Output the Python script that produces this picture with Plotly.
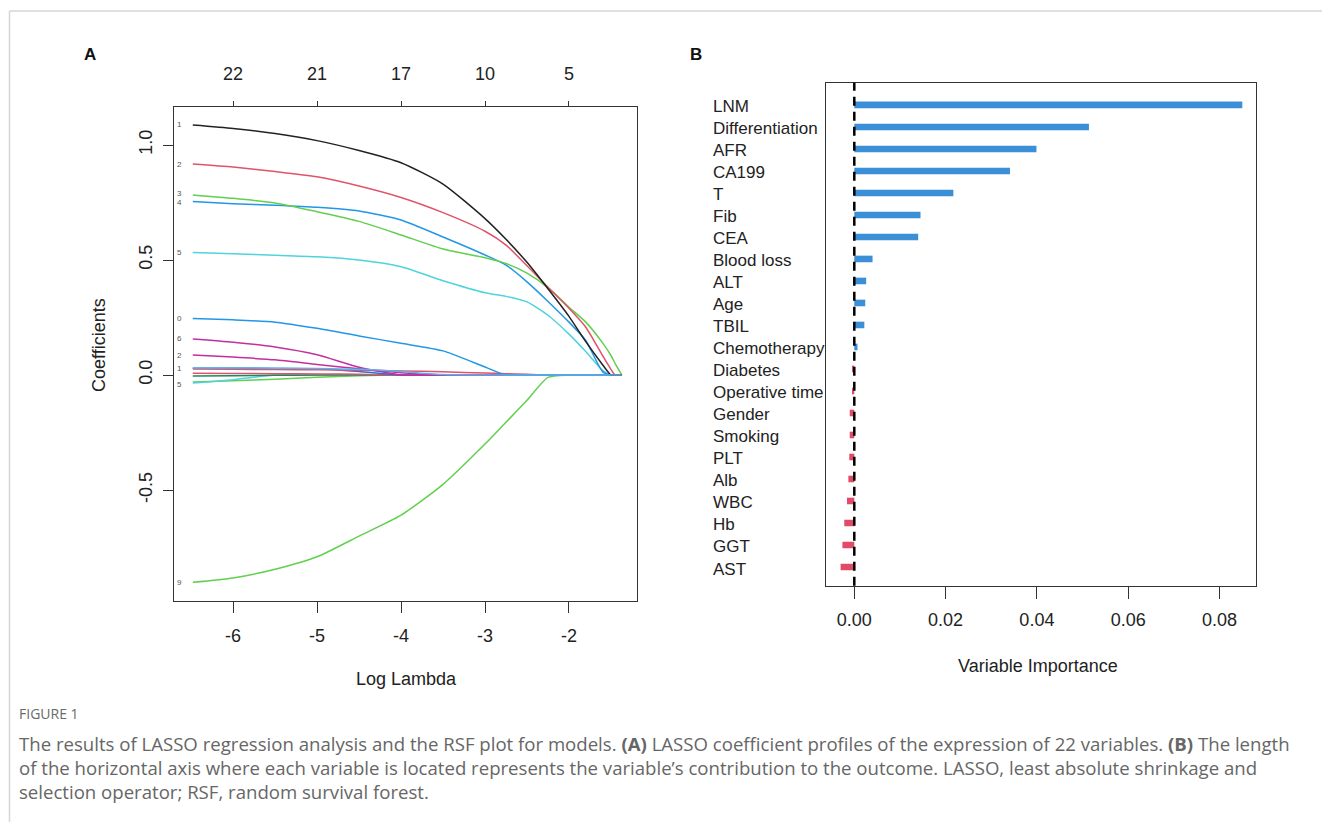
import plotly.graph_objects as go

W, H = 1322, 822

# ---------------- Panel A data (LASSO coefficient paths) ----------------
loglam = [-6.48, -6.0, -5.5, -5.0, -4.5, -4.0, -3.5, -3.0, -2.75, -2.5, -2.25, -2.0, -1.8, -1.6, -1.5, -1.45, -1.37]

coef_v1 = [1.087, 1.072, 1.050, 1.019, 0.976, 0.923, 0.830, 0.680, 0.590, 0.490, 0.375, 0.255, 0.145, 0.045, 0.0, 0.0, 0.0]
coef_v2 = [0.917, 0.904, 0.885, 0.862, 0.822, 0.772, 0.706, 0.625, 0.565, 0.475, 0.382, 0.290, 0.208, 0.085, 0.025, 0.0, 0.0]
coef_v3 = [0.783, 0.768, 0.748, 0.710, 0.668, 0.609, 0.548, 0.510, 0.485, 0.443, 0.380, 0.295, 0.230, 0.140, 0.085, 0.050, 0.0]
coef_v4 = [0.754, 0.745, 0.738, 0.729, 0.713, 0.674, 0.600, 0.522, 0.478, 0.405, 0.320, 0.230, 0.150, 0.015, 0.0, 0.0, 0.0]
coef_v5 = [0.533, 0.527, 0.521, 0.514, 0.500, 0.471, 0.410, 0.358, 0.342, 0.318, 0.260, 0.178, 0.102, 0.020, 0.0, 0.0, 0.0]
coef_v10 = [0.246, 0.240, 0.230, 0.203, 0.170, 0.138, 0.105, 0.035, 0.0, 0.0, 0.0, 0.0, 0.0, 0.0, 0.0, 0.0, 0.0]
coef_v16 = [0.157, 0.143, 0.122, 0.088, 0.034, 0.0, 0.0, 0.0, 0.0, 0.0, 0.0, 0.0, 0.0, 0.0, 0.0, 0.0, 0.0]
coef_v12 = [0.087, 0.078, 0.066, 0.046, 0.027, 0.010, 0.0, 0.0, 0.0, 0.0, 0.0, 0.0, 0.0, 0.0, 0.0, 0.0, 0.0]
coef_v19 = [-0.901, -0.882, -0.844, -0.790, -0.700, -0.609, -0.475, -0.300, -0.205, -0.110, -0.010, 0.0, 0.0, 0.0, 0.0, 0.0, 0.0]
coef_n1 = [0.030, 0.030, 0.029, 0.027, 0.015, 0.0, 0.0, 0.0, 0.0, 0.0, 0.0, 0.0, 0.0, 0.0, 0.0, 0.0, 0.0]
coef_n2 = [0.026, 0.025, 0.024, 0.023, 0.021, 0.018, 0.014, 0.009, 0.006, 0.003, 0.0, 0.0, 0.0, 0.0, 0.0, 0.0, 0.0]
coef_n3 = [0.008, 0.007, 0.006, 0.005, 0.003, 0.0, 0.0, 0.0, 0.0, 0.0, 0.0, 0.0, 0.0, 0.0, 0.0, 0.0, 0.0]
coef_n4 = [-0.004, -0.003, -0.001, 0.0, 0.0, 0.0, 0.0, 0.0, 0.0, 0.0, 0.0, 0.0, 0.0, 0.0, 0.0, 0.0, 0.0]
coef_n5 = [-0.035, -0.020, 0.0, 0.0, 0.0, 0.0, 0.0, 0.0, 0.0, 0.0, 0.0, 0.0, 0.0, 0.0, 0.0, 0.0, 0.0]
coef_n6 = [-0.030, -0.025, -0.018, -0.010, -0.003, 0.0, 0.0, 0.0, 0.0, 0.0, 0.0, 0.0, 0.0, 0.0, 0.0, 0.0, 0.0]
coef_n7 = [0.031, 0.031, 0.030, 0.029, 0.025, 0.015, 0.002, 0.0, 0.0, 0.0, 0.0, 0.0, 0.0, 0.0, 0.0, 0.0, 0.0]

# (values, colour, left label, label vertical nudge in px)
path_series = [
    (coef_n6, "#61D04F", "", 0), (coef_n5, "#4FD3DD", "5", -1), (coef_n4, "#1E8A5C", "", 0),
    (coef_n3, "#DF536B", "", 0), (coef_n1, "#2F6FD0", "1", 0), (coef_n2, "#DF536B", "", 0),
    (coef_v19, "#61D04F", "9", 0), (coef_v12, "#C2309F", "2", 0), (coef_v16, "#C2309F", "6", 0),
    (coef_v10, "#2297E6", "0", 0), (coef_v5, "#4FD3DD", "5", 0), (coef_v4, "#2297E6", "4", -1),
    (coef_v3, "#61D04F", "3", 1), (coef_v2, "#DF536B", "2", 0), (coef_v1, "#222222", "1", 0),
    (coef_n7, "#5AB4EA", "", 0),
]

bottom_tick_vals = [-6, -5, -4, -3, -2]
bottom_tick_text = ["-6", "-5", "-4", "-3", "-2"]
top_tick_text = ["22", "21", "17", "10", "5"]
coef_tick_vals = [-0.5, 0, 0.5, 1.0]
coef_tick_text = ["-0.5", "0.0", "0.5", "1.0"]

# ---------------- Panel B data (RSF variable importance) ----------------
variables = ["LNM", "Differentiation", "AFR", "CA199", "T", "Fib", "CEA", "Blood loss", "ALT", "Age",
             "TBIL", "Chemotherapy", "Diabetes", "Operative time", "Gender", "Smoking", "PLT", "Alb",
             "WBC", "Hb", "GGT", "AST"]
importance = [0.0850, 0.0514, 0.0399, 0.0341, 0.0217, 0.0145, 0.0140, 0.0040, 0.0026, 0.0024,
              0.0022, 0.0007, -0.0005, -0.0005, -0.0010, -0.0010, -0.0011, -0.0013,
              -0.0016, -0.0022, -0.0026, -0.0030]
vimp_tick_vals = [0, 0.02, 0.04, 0.06, 0.08]
vimp_tick_text = ["0.00", "0.02", "0.04", "0.06", "0.08"]

fig = go.Figure()

# Panel A lines
for vals, col, lab, nudge in path_series:
    fig.add_trace(go.Scatter(x=loglam, y=vals, mode="lines",
                             line=dict(color=col, width=1.5, shape="spline", smoothing=0.6),
                             xaxis="x", yaxis="y", showlegend=False, hoverinfo="skip"))
    if lab:
        fig.add_annotation(x=-6.64, y=vals[0], xref="x", yref="y", text=lab, showarrow=False,
                           xanchor="center", yanchor="middle", yshift=nudge,
                           font=dict(family="Liberation Sans", size=8, color="#555555"))

# invisible trace to attach the top axis
fig.add_trace(go.Scatter(x=[loglam[0]], y=[0], mode="markers", marker=dict(opacity=0),
                         xaxis="x3", yaxis="y", showlegend=False, hoverinfo="skip"))

# Panel B bars
bar_colors = ["#3A8FD6" if v > 0 else "#E04B67" for v in importance]
fig.add_trace(go.Bar(x=importance, y=variables, orientation="h",
                     marker=dict(color=bar_colors, line=dict(width=0)),
                     width=0.3, xaxis="x2", yaxis="y2", showlegend=False, hoverinfo="skip"))

axis_font = dict(family="Liberation Sans", size=18, color="#222222")

fig.update_layout(
    width=W, height=H, margin=dict(l=0, r=0, t=0, b=0),
    paper_bgcolor="white", plot_bgcolor="white",
    xaxis=dict(domain=[174.3 / W, 637 / W], range=[-6.70, -1.19], showgrid=False, zeroline=False,
               showline=True, mirror=True, linecolor="#333333", linewidth=1,
               ticks="outside", ticklen=11, tickcolor="#333333", tickvals=bottom_tick_vals,
               ticktext=bottom_tick_text, tickfont=axis_font, ticklabelstandoff=8),
    xaxis3=dict(domain=[174.3 / W, 637 / W], range=[-6.70, -1.19], overlaying="x", side="top", anchor="y",
                showgrid=False, zeroline=False, showline=False, ticks="outside", ticklen=5,
                tickcolor="#333333", tickvals=bottom_tick_vals, ticktext=top_tick_text, tickfont=axis_font,
                ticklabelstandoff=14),
    yaxis=dict(domain=[1 - 600.5 / H, 1 - 106.7 / H], range=[-0.980, 1.1665], showgrid=False, zeroline=False,
               showline=True, mirror=True, linecolor="#333333", linewidth=1,
               ticks="outside", ticklen=10, tickcolor="#333333", tickvals=coef_tick_vals,
               ticktext=coef_tick_text, tickangle=-90, tickfont=axis_font, ticklabelstandoff=4),
    xaxis2=dict(domain=[826 / W, 1256 / W], range=[-0.0062, 0.0880], anchor="y2", showgrid=False,
                zeroline=False, showline=True, mirror=True, linecolor="#333333", linewidth=1,
                ticks="outside", ticklen=12, tickcolor="#333333",
                tickvals=vimp_tick_vals, ticktext=vimp_tick_text, tickfont=axis_font, ticklabelstandoff=6),
    yaxis2=dict(domain=[1 - 585.7 / H, 1 - 82.7 / H], anchor="x2", categoryorder="array",
                categoryarray=variables[::-1], range=[-0.85, 22.01], showgrid=False, zeroline=False,
                showline=True, mirror=True, linecolor="#333333", linewidth=1, showticklabels=False, ticks=""),
)

# dashed zero line in panel B
fig.add_shape(type="line", xref="x2", yref="y2 domain", x0=0, x1=0, y0=0, y1=1,
              line=dict(color="black", width=2.5, dash="9px,6px"))

# Category labels (left aligned)
for v in variables:
    fig.add_annotation(x=711 / W, y=v, xref="paper", yref="y2", text=v, showarrow=False,
                       xanchor="left", yanchor="middle", yshift=-2,
                       font=dict(family="Liberation Sans", size=17, color="#222222"))

def px(xp, yp):
    return xp / W, 1 - yp / H

def paper_text(txt, xp, yp, font, xanchor="center", angle=0):
    x, y = px(xp, yp)
    fig.add_annotation(x=x, y=y, xref="paper", yref="paper", text=txt, showarrow=False, textangle=angle,
                       xanchor=xanchor, yanchor="middle", font=font)

title_font = dict(family="Liberation Sans", size=18, color="#222222")
paper_text("Log Lambda", 406, 679, title_font)
paper_text("Coefficients", 99, 345, title_font, angle=-90)
paper_text("Variable Importance", 1038, 666, title_font)

letter_font = dict(family="Liberation Sans", size=17, color="#111111")
paper_text("<b>A</b>", 90, 54, letter_font)
paper_text("<b>B</b>", 696, 54, letter_font)

# Frame lines
fig.add_shape(type="line", xref="paper", yref="paper", x0=9.5 / W, x1=1, y0=1 - 11 / H, y1=1 - 11 / H,
              line=dict(color="#d6d6d6", width=1.5))
fig.add_shape(type="line", xref="paper", yref="paper", x0=9.5 / W, x1=9.5 / W, y0=0, y1=1 - 11 / H,
              line=dict(color="#d6d6d6", width=1.5))

# Caption
paper_text("FIGURE 1", 17, 713, dict(family="Open Sans", size=14, color="#6a6a6a"), xanchor="left")
caption_lines = [
    "The results of LASSO regression analysis and the RSF plot for models. <b>(A)</b> LASSO coefficient profiles of the expression of 22 variables. <b>(B)</b> The length",
    "of the horizontal axis where each variable is located represents the variable\u2019s contribution to the outcome. LASSO, least absolute shrinkage and",
    "selection operator; RSF, random survival forest.",
]
cap_font = dict(family="Open Sans", size=18.6, color="#666666")
for i, line in enumerate(caption_lines):
    paper_text(line, 17, 743 + 24 * i, cap_font, xanchor="left")

fig.write_html("out.html")
